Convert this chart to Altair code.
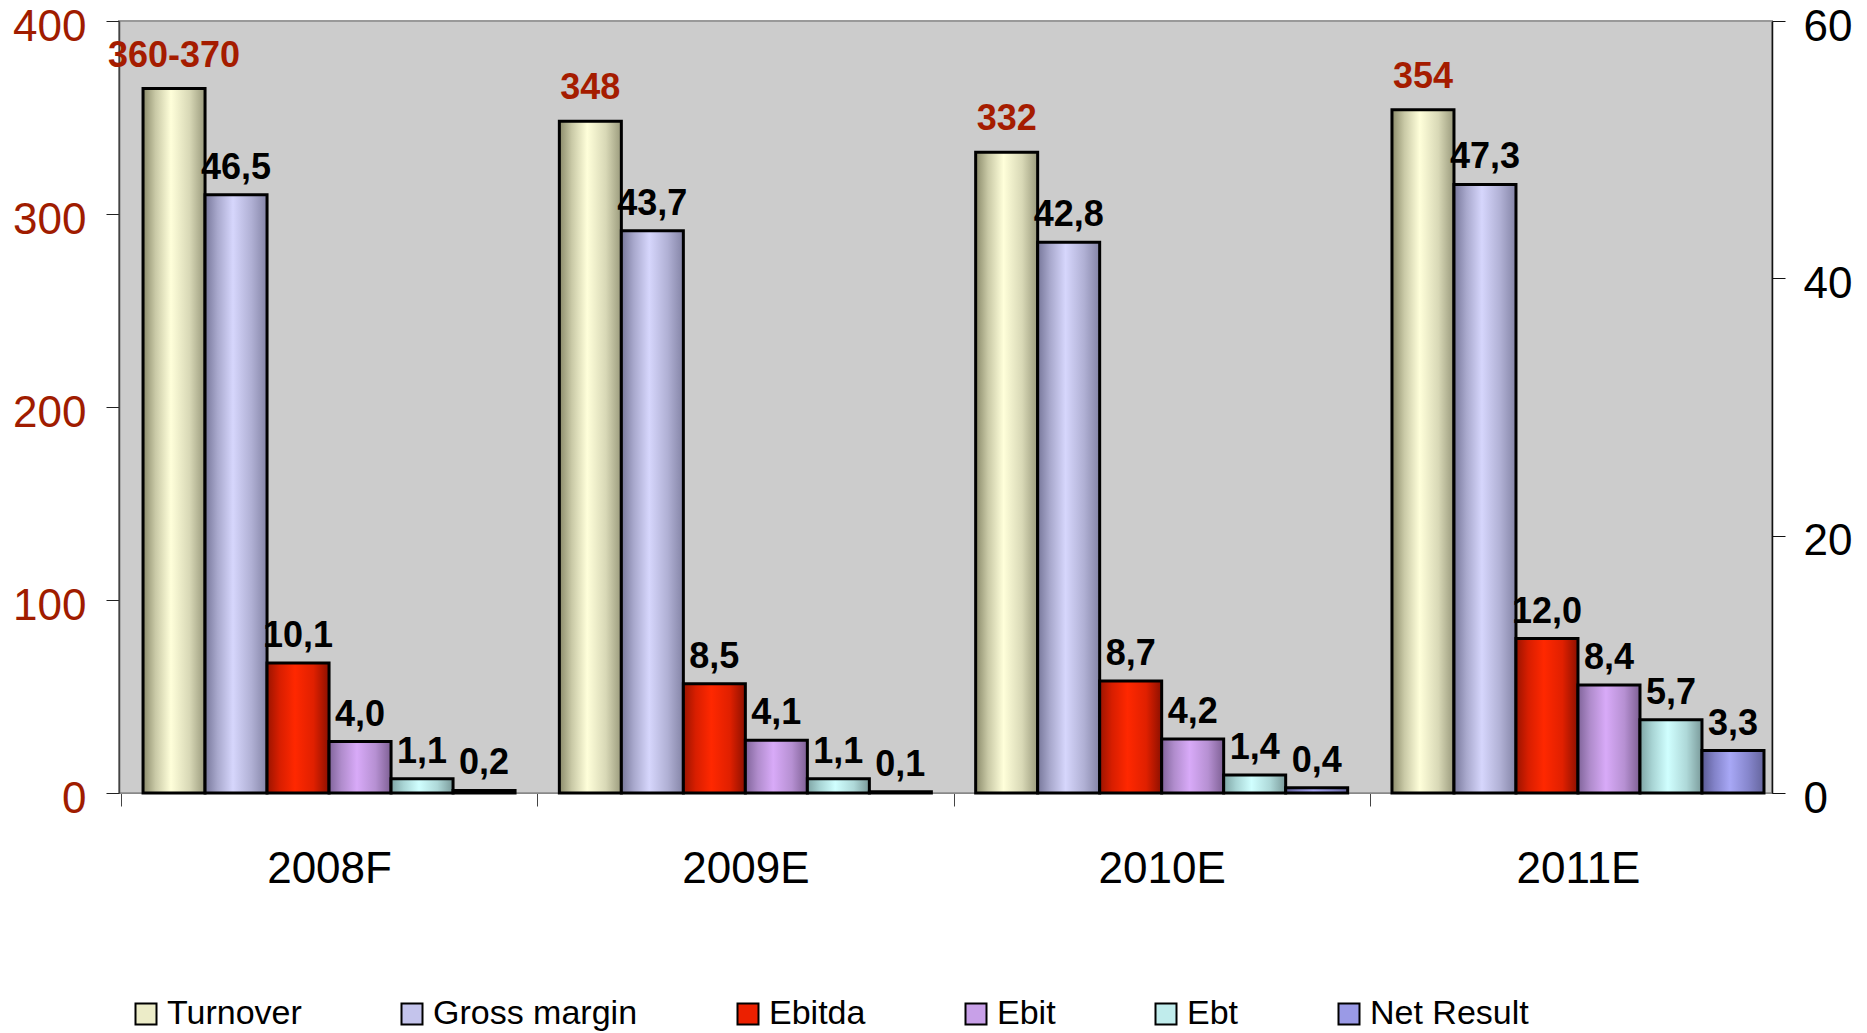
import altair as alt
import pandas as pd

# ---------------- data ----------------
years = ["2008F", "2009E", "2010E", "2011E"]
series_names = ["Turnover", "Gross margin", "Ebitda", "Ebit", "Ebt", "Net Result"]

turnover = [365, 348, 332, 354]
turnover_labels = ["360-370", "348", "332", "354"]
gross_margin = [46.5, 43.7, 42.8, 47.3]
ebitda = [10.1, 8.5, 8.7, 12.0]
ebit = [4.0, 4.1, 4.2, 8.4]
ebt = [1.1, 1.1, 1.4, 5.7]
net_result = [0.2, 0.1, 0.4, 3.3]

left_ticks = [0, 100, 200, 300, 400]
right_ticks = [0, 20, 40, 60]

right_series = {
    "Gross margin": gross_margin,
    "Ebitda": ebitda,
    "Ebit": ebit,
    "Ebt": ebt,
    "Net Result": net_result,
}

rows = []
for i, yr in enumerate(years):
    rows.append({"year": yr, "series": "Turnover", "value": turnover[i], "label": turnover_labels[i]})
for s, vals in right_series.items():
    for i, yr in enumerate(years):
        rows.append({"year": yr, "series": s, "value": vals[i],
                     "label": f"{vals[i]:.1f}".replace(".", ",")})
df = pd.DataFrame(rows)

# ---------------- style ----------------
FONT = "Liberation Sans"

shades = {
    "Turnover": ("#8a8a6a", "#c9c9a6", "#ffffda", "#d8d8b6", "#9a9a7c"),
    "Gross margin": ("#77779a", "#a8a8cc", "#d6d6fc", "#b0b0d4", "#8484a6"),
    "Ebitda": ("#9a1400", "#d81e00", "#ff2800", "#e02000", "#8c1000"),
    "Ebit": ("#80649a", "#b08ccc", "#d8aaf8", "#b690d2", "#7e6094"),
    "Ebt": ("#7ea4a4", "#a8d4d4", "#d0ffff", "#aed8d8", "#7a9a9a"),
    "Net Result": ("#5a5a92", "#8282c8", "#a8a8f6", "#8686cc", "#64649c"),
}
legend_colors = ["#ececc8", "#c4c4ec", "#ec2000", "#c8a0e8", "#c0ecec", "#9a9ae6"]


def gradient(s):
    c = shades[s]
    return alt.Gradient(
        gradient="linear", x1=0, x2=1, y1=0, y2=0,
        stops=[alt.GradientStop(color=c[0], offset=0),
               alt.GradientStop(color=c[1], offset=0.2),
               alt.GradientStop(color=c[2], offset=0.45),
               alt.GradientStop(color=c[3], offset=0.75),
               alt.GradientStop(color=c[4], offset=1)],
    )


PLOT_W, PLOT_H = 1653, 772
P_INNER, P_OUTER = 0.1064, 0.0385
STEP = PLOT_W / (len(years) - P_INNER + 2 * P_OUTER)

X = alt.X("year:N",
          scale=alt.Scale(domain=years, paddingInner=P_INNER, paddingOuter=P_OUTER, align=0.75),
          axis=alt.Axis(title=None, labelAngle=0, labelFontSize=44, labelFont=FONT,
                        labelColor="black", labelPadding=41,
                        tickOffset=-STEP / 2, labelOffset=STEP / 2,
                        tickSize=13, tickColor="#444444", tickWidth=1,
                        domainColor="#888888", domainWidth=1))
XO = alt.XOffset("series:N", scale=alt.Scale(domain=series_names))

Y_left = alt.Y("value:Q",
               scale=alt.Scale(domain=[0, 400], nice=False),
               axis=alt.Axis(orient="left", values=left_ticks, title=None, grid=False,
                             labelFontSize=44, labelFont=FONT, labelColor="#a01c00",
                             tickSize=13, tickColor="#222222", labelPadding=20, labelOffset=6,
                             domainColor="#444444", domainWidth=1.5))
Y_right = alt.Y("value:Q",
                scale=alt.Scale(domain=[0, 60], nice=False),
                axis=alt.Axis(orient="right", values=right_ticks, title=None, grid=False,
                              labelFontSize=44, labelFont=FONT, labelColor="black",
                              tickSize=13, tickColor="#111111", labelPadding=18, labelOffset=6,
                              domainColor="#111111", domainWidth=1.5))

# ---------------- left (Turnover) ----------------
base_left = alt.Chart(df).transform_filter(alt.datum.series == "Turnover")
left_bars = base_left.mark_bar(fill=gradient("Turnover"), stroke="black", strokeWidth=3).encode(
    x=X, xOffset=XO, y=Y_left)
left_text = base_left.mark_text(font=FONT, fontSize=36, fontWeight="bold", color="#a51c00",
                                baseline="alphabetic", dy=-22).encode(
    x=X, xOffset=XO, y=Y_left, text="label:N")
left = alt.layer(left_bars, left_text)

# ---------------- right (other series) ----------------
right_layers = []
for s in right_series:
    right_layers.append(
        alt.Chart(df).transform_filter(alt.datum.series == s)
        .mark_bar(fill=gradient(s), stroke="black", strokeWidth=3)
        .encode(x=X, xOffset=XO, y=Y_right)
    )
right_text = (alt.Chart(df).transform_filter(alt.datum.series != "Turnover")
              .mark_text(font=FONT, fontSize=36, fontWeight="bold", color="black",
                         baseline="alphabetic", dy=-16)
              .encode(x=X, xOffset=XO, y=Y_right, text="label:N"))
legend_layer = (alt.Chart(df).transform_filter("false")
                .mark_bar(opacity=1)
                .encode(x=X, xOffset=XO, y=Y_right,
                        color=alt.Color("series:N",
                                        scale=alt.Scale(domain=series_names, range=legend_colors),
                                        legend=alt.Legend(orient="none", legendX=10, legendY=976,
                                                          direction="horizontal", columns=6,
                                                          columnPadding=93, symbolType="square",
                                                          symbolSize=441, symbolStrokeColor="black",
                                                          symbolStrokeWidth=2, symbolOpacity=1,
                                                          labelFontSize=34, labelFont=FONT,
                                                          labelColor="black", labelOffset=4,
                                                          labelLimit=0,
                                                          title=None, padding=0))))
right = alt.layer(*right_layers, right_text, legend_layer)

chart = (alt.layer(left, right)
         .resolve_scale(y="independent")
         .properties(width=PLOT_W, height=PLOT_H, autosize="none",
                     padding={"left": 119, "top": 21, "right": 95, "bottom": 240},
                     background="white")
         .configure_view(fill="#cccccc", stroke="#999999", strokeWidth=2))

chart.save("out.html", embed_options={"renderer": "svg", "actions": False})
